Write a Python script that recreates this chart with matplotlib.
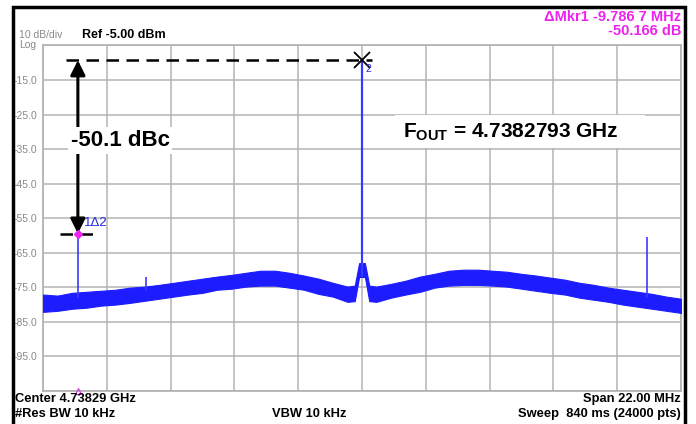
import numpy as np
import matplotlib
matplotlib.use("Agg")
import matplotlib.pyplot as plt
from matplotlib.patches import Rectangle

plt.rcParams["font.family"] = ["Liberation Sans", "DejaVu Sans"]
plt.rcParams["mathtext.fontset"] = "custom"
plt.rcParams["mathtext.rm"] = "Liberation Sans"
plt.rcParams["mathtext.bf"] = "Liberation Sans:bold"

# sweep settings (offsets in MHz from the centre frequency)
center_ghz = 4.73829
span_mhz = 22.0
ref_dbm = -5.0
db_per_div = 10.0

# carrier and delta marker
fout_ghz = 4.7382793
peak_dbm = -9.3
delta_mhz = -9.7867
delta_db = -50.166

# noise floor envelope
noise_off = [-11, -10.5, -10, -9.5, -9, -8.5, -8, -7.5, -7, -6.5, -6, -5.5, -5, -4.5,
             -4, -3.5, -3, -2.5, -2, -1.5, -1, -0.5, -0.25, -0.1,
             0.1, 0.25, 0.5, 1, 1.5, 2, 2.5, 3, 3.5, 4, 4.5, 5, 5.5, 6, 6.5, 7,
             7.5, 8, 8.5, 9, 9.5, 10, 10.5, 11]
noise_hi = [-77.1, -77.4, -76.6, -76.3, -76.0, -75.7, -75.1, -74.8, -74.3, -73.7, -73.1,
            -72.5, -71.9, -71.4, -70.8, -70.2, -70.2, -70.8, -71.6, -72.5, -73.7, -74.8,
            -74.5, -68.0,
            -68.0, -74.5, -74.8, -74.0, -73.1, -71.9, -71.1, -70.2, -69.9, -69.9, -70.2,
            -70.5, -71.1, -71.6, -72.2, -72.8, -73.7, -74.3, -75.1, -75.7, -76.3, -76.9,
            -77.7, -78.3]
noise_lo = [-82.1, -81.8, -81.2, -80.9, -80.3, -80.0, -79.5, -78.9, -78.3, -77.7, -77.1,
            -76.6, -75.7, -75.4, -74.8, -74.5, -74.5, -75.1, -75.7, -76.9, -77.7, -79.2,
            -79.0, -72.0,
            -72.0, -79.0, -79.2, -78.0, -77.1, -76.3, -75.1, -74.5, -74.3, -74.3, -74.5,
            -74.8, -75.4, -76.0, -76.6, -77.1, -78.0, -78.6, -79.2, -80.0, -80.6, -81.2,
            -81.8, -82.4]

# other spurs: offset (MHz), top level (dBm)
spur_off = [9.83, -7.45]
spur_top = [-60.3, -71.9]

carrier_off = (fout_ghz - center_ghz) * 1000
m1_off = carrier_off + delta_mhz
m1_dbm = peak_dbm + delta_db

W, H = 696, 424
fig = plt.figure(figsize=(W / 100, H / 100), dpi=100)
ax = fig.add_axes([43 / W, (H - 391) / H, 638 / W, 345.6 / H])

blue = "#1c1cff"
grid_c = "#b4b4b4"
magenta = "#ee22ee"

half = span_mhz / 2
ax.set_xlim(-half, half)
ax.set_ylim(ref_dbm - 10 * db_per_div, ref_dbm)
ax.set_xticks(np.linspace(-half, half, 11))
yt = [ref_dbm - i * db_per_div for i in range(11)]
ax.set_yticks(yt)
ax.set_yticklabels(["" if i in (0, 10) else f"{v:.1f}" for i, v in enumerate(yt)])
ax.set_xticklabels([])
ax.tick_params(length=0, labelsize=7.5, labelcolor="#8a8a8a", pad=4)
ax.grid(True, color=grid_c, lw=1.1)
for s in ax.spines.values():
    s.set_color(grid_c)
    s.set_linewidth(1.3)

# trace
ax.fill_between(noise_off, noise_lo, noise_hi, color=blue, lw=0.8, edgecolor=blue, zorder=3)
ax.vlines(carrier_off, -72, peak_dbm, color="#3a3aff", lw=1.6, zorder=3)
ax.vlines(m1_off, -78, m1_dbm, color="#3a3aff", lw=1.2, zorder=3)
ax.vlines(spur_off, [-78, -76], spur_top, color="#3a3aff", lw=1.2, zorder=3)

# markers
ax.plot(carrier_off, peak_dbm, marker="x", ms=11, mew=1.3, color="black", zorder=6)
ax.text(carrier_off + 0.12, peak_dbm - 2.6, "2", color="#2a2ae0", fontsize=7.5, va="center", zorder=6)
ax.plot(m1_off, m1_dbm, marker="D", ms=4.5, color=magenta, zorder=6)
ax.text(m1_off + 0.22, m1_dbm + 3.0, "1\u03942", color="#2a2ae0", fontsize=9.5, va="center", zorder=6)
ax.plot(m1_off, ref_dbm - 10 * db_per_div, marker="^", ms=5, fillstyle="none",
        color=magenta, mew=0.8, clip_on=False, zorder=6)

# level annotation
ax.plot([m1_off - 0.4, carrier_off + 0.35], [peak_dbm, peak_dbm], color="black",
        lw=1.8, ls=(0, (5, 3)), zorder=5)
ax.plot([m1_off - 0.6, m1_off + 0.7], [m1_dbm, m1_dbm], color="black",
        lw=1.8, ls=(0, (5, 3)), zorder=5)
ax.annotate("", xy=(m1_off, peak_dbm), xytext=(m1_off, m1_dbm),
            arrowprops=dict(arrowstyle="<|-|>", lw=2.2, color="black",
                            mutation_scale=22, shrinkA=0, shrinkB=0), zorder=5)
ax.text(m1_off - 0.25, -32.5, "-50.1 dBc", fontsize=16, fontweight="bold",
        va="center", ha="left", zorder=7,
        bbox=dict(facecolor="white", edgecolor="none", pad=2))

ax.add_patch(Rectangle((1.15, -34.8), 8.6, 9.6, facecolor="white", edgecolor="none", zorder=4))
ax.text(1.4, -30.0, r"F$_{\mathbf{OUT}}$ = %.7f GHz" % fout_ghz, fontsize=15,
        fontweight="bold", va="center", ha="left", zorder=7)


def ftext(x, y, s, **kw):
    fig.text(x / W, 1 - y / H, s, va="center", **kw)


ftext(19, 35, "10 dB/div", fontsize=7.5, color="#8a8a8a")
ftext(19, 45.5, "Log", fontsize=7.5, color="#8a8a8a")
ftext(82, 35, "Ref -5.00 dBm", fontsize=9, fontweight="bold")
ftext(681, 17, "\u0394Mkr1 -9.786 7 MHz", fontsize=10.5, fontweight="bold", color=magenta, ha="right")
ftext(681, 31, "%.3f dB" % delta_db, fontsize=10.5, fontweight="bold", color=magenta, ha="right")
ftext(15, 399, "Center %.5f GHz" % center_ghz, fontsize=9.3, fontweight="bold")
ftext(681, 399, "Span %.2f MHz" % span_mhz, fontsize=9.3, fontweight="bold", ha="right")
ftext(15, 414, "#Res BW 10 kHz", fontsize=9.3, fontweight="bold")
ftext(309, 414, "VBW 10 kHz", fontsize=9.3, fontweight="bold", ha="center")
ftext(681, 414, "Sweep  840 ms (24000 pts)", fontsize=9.3, fontweight="bold", ha="right")

# instrument screen border
fig.patches.append(Rectangle((13 / W, -0.05), 672 / W, 1.05 - 7 / H, transform=fig.transFigure,
                             facecolor="none", edgecolor="black", lw=2.5))

fig.savefig("out.png", dpi=100)
